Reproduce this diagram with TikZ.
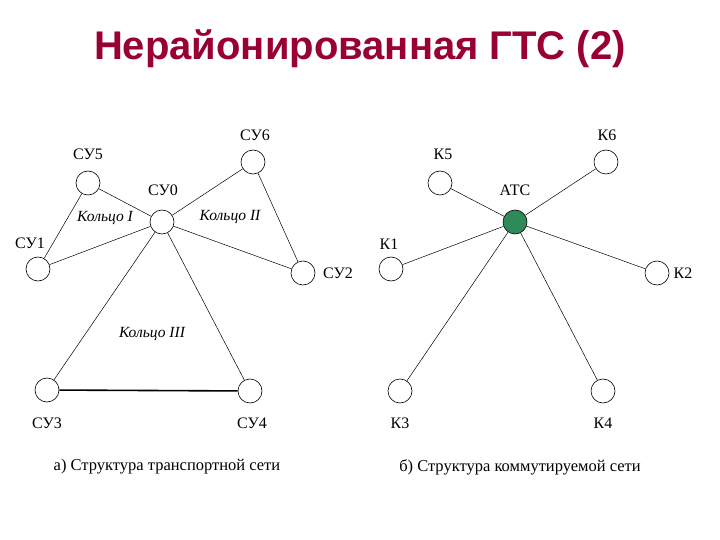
\documentclass[tikz,border=0pt]{standalone}
\usepackage{fontspec}
\setmainfont{Liberation Serif}
\newfontfamily\titlefont{Liberation Sans}
\definecolor{titlered}{RGB}{153,0,51}
\definecolor{atcgreen}{RGB}{46,139,87}

\begin{document}
\begin{tikzpicture}[x=1pt,y=-1pt,
    su/.style={circle, draw, line width=0.6pt, minimum size=24pt, inner sep=0pt},
    lbl/.style={font=\fontsize{16}{18}\selectfont},
    ring/.style={font=\itshape\fontsize{15.5}{17}\selectfont},
    link/.style={line width=0.5pt}]
    \useasboundingbox (0,0) rectangle (720,540);
    \node[font=\titlefont\bfseries\fontsize{40}{44}\selectfont, text=titlered] (title) at (360,49) {Нерайонированная ГТС (2)};

    % transport network
    \node[su] (su0) at (162,222) {};
    \node[su] (su1) at (38,269) {};
    \node[su] (su2) at (303,273) {};
    \node[su] (su3) at (47,390) {};
    \node[su] (su4) at (250,391) {};
    \node[su] (su5) at (88,183) {};
    \node[su] (su6) at (253,162) {};
    \foreach \n in {1,...,6}
        \draw[link] (su0) -- (su\n);
    \draw[link] (su5) -- (su1);
    \draw[link] (su6) -- (su2);
    \draw[line width=1.6pt] (su3) -- (su4);
    \node[lbl] at (163,190) {СУ0};
    \node[lbl] at (30,243) {СУ1};
    \node[lbl] at (338,273) {СУ2};
    \node[lbl] at (47,423) {СУ3};
    \node[lbl] at (252,423) {СУ4};
    \node[lbl] at (88,154) {СУ5};
    \node[lbl] at (255,135) {СУ6};
    \node[ring] at (105,218) {Кольцо I};
    \node[ring] at (230,217) {Кольцо II};
    \node[ring] at (152,334) {Кольцо III};
    \node[lbl, font=\fontsize{16.5}{18}\selectfont] at (167,467) {а) Структура транспортной сети};

    % switched network
    \node[su, fill=atcgreen] (atc) at (515,222) {};
    \node[su] (k1) at (391,269) {};
    \node[su] (k2) at (657,273) {};
    \node[su] (k3) at (400,391) {};
    \node[su] (k4) at (603,391) {};
    \node[su] (k5) at (440,183) {};
    \node[su] (k6) at (606,162) {};
    \foreach \n in {1,...,6}
        \draw[link] (atc) -- (k\n);
    \node[lbl] at (515,190) {АТС};
    \node[lbl] at (389,244) {К1};
    \node[lbl] at (683,273) {К2};
    \node[lbl] at (400,423) {К3};
    \node[lbl] at (603,423) {К4};
    \node[lbl] at (443,154) {К5};
    \node[lbl] at (607,135) {К6};
    \node[lbl, font=\fontsize{16.5}{18}\selectfont] at (520,467) {б) Структура коммутируемой сети};
\end{tikzpicture}
\end{document}
